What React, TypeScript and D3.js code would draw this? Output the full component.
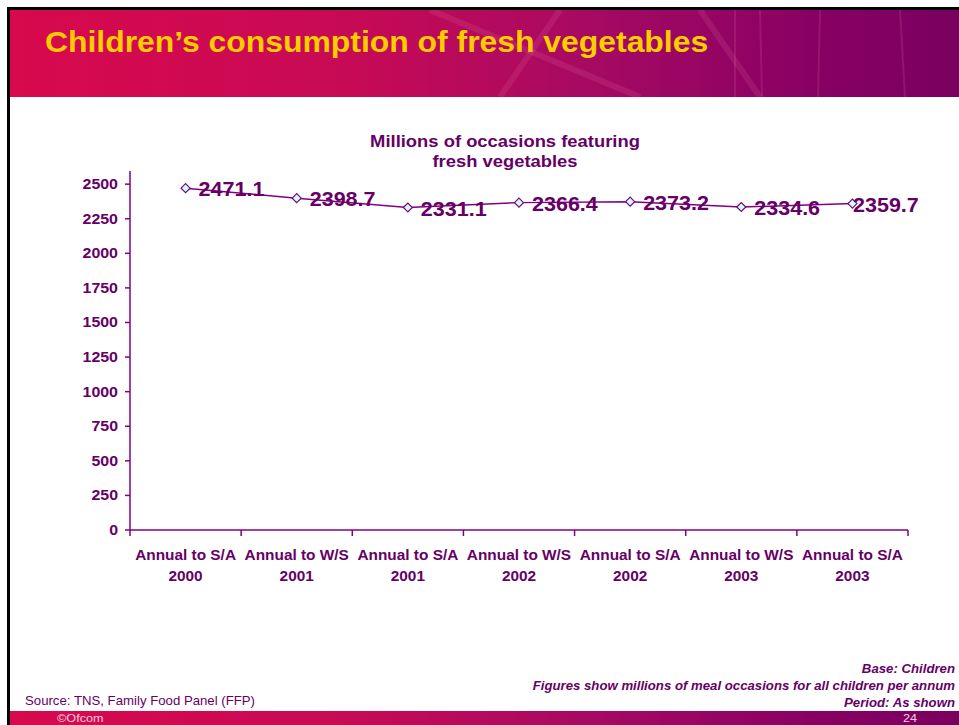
import React from 'react';
import * as d3 from 'd3';

const categories = [
  ['Annual to S/A', '2000'],
  ['Annual to W/S', '2001'],
  ['Annual to S/A', '2001'],
  ['Annual to W/S', '2002'],
  ['Annual to S/A', '2002'],
  ['Annual to W/S', '2003'],
  ['Annual to S/A', '2003'],
];
const values = [2471.1, 2398.7, 2331.1, 2366.4, 2373.2, 2334.6, 2359.7];
const yTicks = [0, 250, 500, 750, 1000, 1250, 1500, 1750, 2000, 2250, 2500];

const purple = '#660066';
const font = 'Arial, "Liberation Sans", sans-serif';

// old slide text renders a bit wider than Arial, so stretch horizontally
function Wide(props: any) {
  const { x, y, sx = 1.1, children, ...rest } = props;
  return (
    <g transform={`translate(${x},${y}) scale(${sx},1)`}>
      <text x={0} y={0} {...rest}>{children}</text>
    </g>
  );
}

export default function App() {
  const margin = { top: 171, left: 130, right: 908, bottom: 530 };

  const x = d3.scaleBand<number>()
    .domain(values.map((d, i) => i))
    .range([margin.left, margin.right]);

  const y = d3.scaleLinear()
    .domain([0, 2595])
    .range([margin.bottom, margin.top]);

  const line = d3.line<number>()
    .x((d, i) => x(i)! + x.bandwidth() / 2)
    .y(d => y(d));

  const bounds = x.domain().map(i => x(i)!).concat([margin.right]);
  const labelW = 64;

  return (
    <svg width={959} height={725} style={{ position: 'absolute', left: 0, top: 0 }} fontFamily={font}>
      <defs>
        <linearGradient id="hdr" x1="0" x2="1" y1="0" y2="0">
          <stop offset="0" stopColor="#d8094d" />
          <stop offset="0.35" stopColor="#c80a55" />
          <stop offset="0.6" stopColor="#a80a62" />
          <stop offset="0.85" stopColor="#880064" />
          <stop offset="1" stopColor="#7a0060" />
        </linearGradient>
      </defs>
      <rect width={959} height={725} fill="#fff" />

      {/* header band */}
      <rect x={10} y={10} width={949} height={87} fill="url(#hdr)" />
      <g stroke="#ff9ec0" strokeOpacity={0.12} strokeWidth={6}>
        <line x1={430} y1={10} x2={640} y2={97} />
        <line x1={560} y1={10} x2={500} y2={97} />
        <line x1={700} y1={10} x2={760} y2={97} />
      </g>
      <g stroke="#ffb0d0" strokeOpacity={0.12} strokeWidth={2}>
        <line x1={735} y1={10} x2={735} y2={97} />
        <line x1={760} y1={10} x2={762} y2={97} />
        <line x1={820} y1={10} x2={818} y2={97} />
        <line x1={900} y1={10} x2={905} y2={97} />
      </g>
      <Wide x={45} y={52} sx={1.1} fill="#ffcc00" fontSize={29} fontWeight="bold">
        Children’s consumption of fresh vegetables
      </Wide>

      {/* border */}
      <line x1={7} y1={8.5} x2={959} y2={8.5} stroke="#000" strokeWidth={3} />
      <line x1={8.5} y1={7} x2={8.5} y2={725} stroke="#000" strokeWidth={3} />

      {/* chart title */}
      <Wide x={505} y={147} sx={1.15} textAnchor="middle" fill={purple} fontSize={16} fontWeight="bold">
        Millions of occasions featuring
      </Wide>
      <Wide x={505} y={167} sx={1.15} textAnchor="middle" fill={purple} fontSize={16} fontWeight="bold">
        fresh vegetables
      </Wide>

      {/* y axis */}
      <line x1={margin.left} x2={margin.left} y1={margin.top} y2={margin.bottom} stroke="#800080" strokeWidth={1.5} />
      {yTicks.map(t => (
        <g key={t}>
          <line x1={margin.left - 5} x2={margin.left} y1={y(t)} y2={y(t)} stroke="#800080" strokeWidth={1.5} />
          <Wide x={margin.left - 12} y={y(t) + 5} sx={1.14} textAnchor="end" fill={purple} fontSize={14} fontWeight="bold">
            {t}
          </Wide>
        </g>
      ))}

      {/* x axis */}
      <line x1={margin.left} x2={margin.right} y1={margin.bottom} y2={margin.bottom} stroke="#800080" strokeWidth={1.5} />
      {bounds.map((b, i) => (
        <line key={i} x1={b} x2={b} y1={margin.bottom} y2={margin.bottom + 6} stroke="#800080" strokeWidth={1.5} />
      ))}
      {categories.map((c, i) => {
        const cx = x(i)! + x.bandwidth() / 2;
        return (
          <g key={i} fill={purple} fontSize={14} fontWeight="bold">
            <Wide x={cx} y={560} sx={1.1} textAnchor="middle">{c[0]}</Wide>
            <Wide x={cx} y={581} sx={1.1} textAnchor="middle">{c[1]}</Wide>
          </g>
        );
      })}

      {/* series */}
      <path d={line(values)!} fill="none" stroke="#800080" strokeWidth={1.5} />
      {values.map((v, i) => {
        const cx = x(i)! + x.bandwidth() / 2;
        const cy = y(v);
        const lx = Math.min(cx + 13, 917 - labelW);
        return (
          <g key={i}>
            <path d={`M${cx - 4.5},${cy}L${cx},${cy - 4.5}L${cx + 4.5},${cy}L${cx},${cy + 4.5}Z`}
              fill="#ccffff" stroke="#800080" strokeWidth={1.2} />
            <Wide x={lx} y={cy + 8} sx={1.05} fill={purple} fontSize={20.5} fontWeight="bold">{v.toFixed(1)}</Wide>
          </g>
        );
      })}

      {/* notes */}
      <g fill={purple} fontSize={12} fontWeight="bold" fontStyle="italic">
        <Wide x={955} y={673} textAnchor="end">Base: Children</Wide>
        <Wide x={955} y={690} textAnchor="end">Figures show millions of meal occasions for all children per annum</Wide>
        <Wide x={955} y={707} textAnchor="end">Period: As shown</Wide>
      </g>
      <Wide x={25} y={705} fill={purple} fontSize={12}>Source: TNS, Family Food Panel (FFP)</Wide>

      {/* footer band */}
      <rect x={10} y={711} width={949} height={14} fill="url(#hdr)" />
      <Wide x={57} y={722} sx={1.15} fill="#f4d0e0" fontSize={11}>©Ofcom</Wide>
      <Wide x={903} y={722} sx={1.15} fill="#f4d0e0" fontSize={11}>24</Wide>
    </svg>
  );
}
